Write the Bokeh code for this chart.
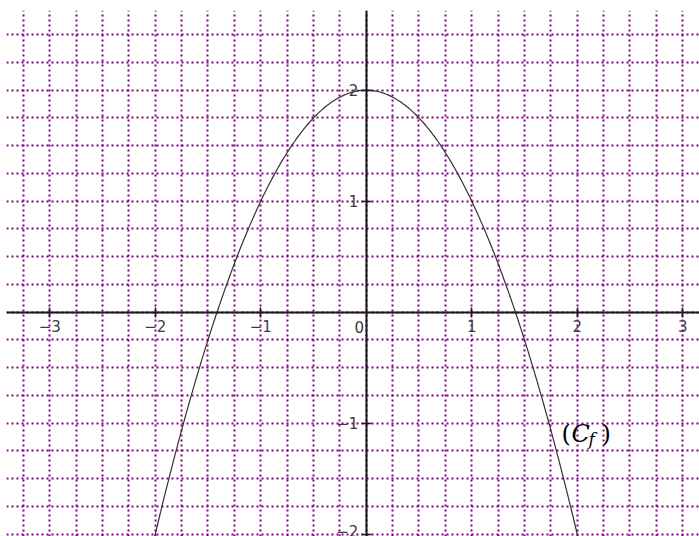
import numpy as np
from bokeh.plotting import figure
from bokeh.models import Range1d, LinearAxis, FixedTicker, Grid
from bokeh.core.properties import value
from bokeh.embed import file_html
from bokeh.resources import INLINE

# f(x) = a*x^2 + b*x + c : vertex at (0, 2), roots at +/- sqrt(2)
a, b, c = -1.0, 0.0, 2.0
x_domain = [-2.05, 2.05]

x_ticks = [-3, -2, -1, 1, 2, 3]
y_ticks = [-2, -1, 1, 2]
x_grid = [-3.25 + 0.25 * i for i in range(26)]
y_grid = [-2.0 + 0.25 * i for i in range(19)]

label_font = "DejaVu Sans"
label_color = "#3c3c3c"
grid_color = "#800080"

p = figure(
    width=699, height=536,
    x_range=Range1d(-3.41, 3.159), y_range=Range1d(-2.021, 2.718),
    output_backend="svg", toolbar_location=None,
    x_axis_type=None, y_axis_type=None,
    min_border_left=6, min_border_top=10, min_border_right=0, min_border_bottom=0,
)
p.outline_line_color = None
p.background_fill_color = "white"
p.border_fill_color = "white"

# dotted quarter-unit grid
for dim, ticks in ((0, x_grid), (1, y_grid)):
    g = Grid(dimension=dim, ticker=FixedTicker(ticks=ticks),
             grid_line_color=grid_color, grid_line_width=2, grid_line_dash="2 3")
    p.add_layout(g)

# axes through the origin
xaxis = LinearAxis(fixed_location=0, ticker=FixedTicker(ticks=x_ticks),
                   axis_line_color="#1a1a1a", axis_line_width=2,
                   major_tick_line_color="#1a1a1a", major_tick_line_width=1.5,
                   major_tick_in=5, major_tick_out=5, minor_tick_line_color=None,
                   major_label_text_font=label_font, major_label_text_font_size="15px",
                   major_label_text_color=label_color, major_label_standoff=3)
p.add_layout(xaxis, "below")

yaxis = LinearAxis(fixed_location=0, ticker=FixedTicker(ticks=y_ticks),
                   axis_line_color="#1a1a1a", axis_line_width=2,
                   major_tick_line_color="#1a1a1a", major_tick_line_width=1.5,
                   major_tick_in=5, major_tick_out=5, minor_tick_line_color=None,
                   major_label_text_font=label_font, major_label_text_font_size="15px",
                   major_label_text_color=label_color, major_label_standoff=3,
                   major_label_orientation="horizontal")
p.add_layout(yaxis, "left")

# origin label
p.text(x=[0], y=[0], text=["0"], x_offset=-7, y_offset=9,
       text_align="center", text_baseline="top",
       text_font=value(label_font), text_font_size="15px", text_color=label_color)

# the curve
xs = np.linspace(x_domain[0], x_domain[1], 400)
ys = a * xs**2 + b * xs + c
p.line(xs, ys, line_color="#333333", line_width=1.2)

# curve name (C_f)
lx, ly = 1.851, -1.095
serif = value("DejaVu Serif")
p.text(x=[lx], y=[ly], text=["("], text_font=serif, text_font_size="24px",
       text_color="black", text_baseline="alphabetic")
p.text(x=[lx], y=[ly], text=["C"], x_offset=10, text_font=serif, text_font_size="24px",
       text_font_style="italic", text_color="black", text_baseline="alphabetic")
p.text(x=[lx], y=[ly], text=["f"], x_offset=27, y_offset=5, text_font=serif,
       text_font_size="17px", text_font_style="italic", text_color="black",
       text_baseline="alphabetic")
p.text(x=[lx], y=[ly], text=[")"], x_offset=40, text_font=serif, text_font_size="24px",
       text_color="black", text_baseline="alphabetic")

open("out.html", "w").write(file_html(p, INLINE))
